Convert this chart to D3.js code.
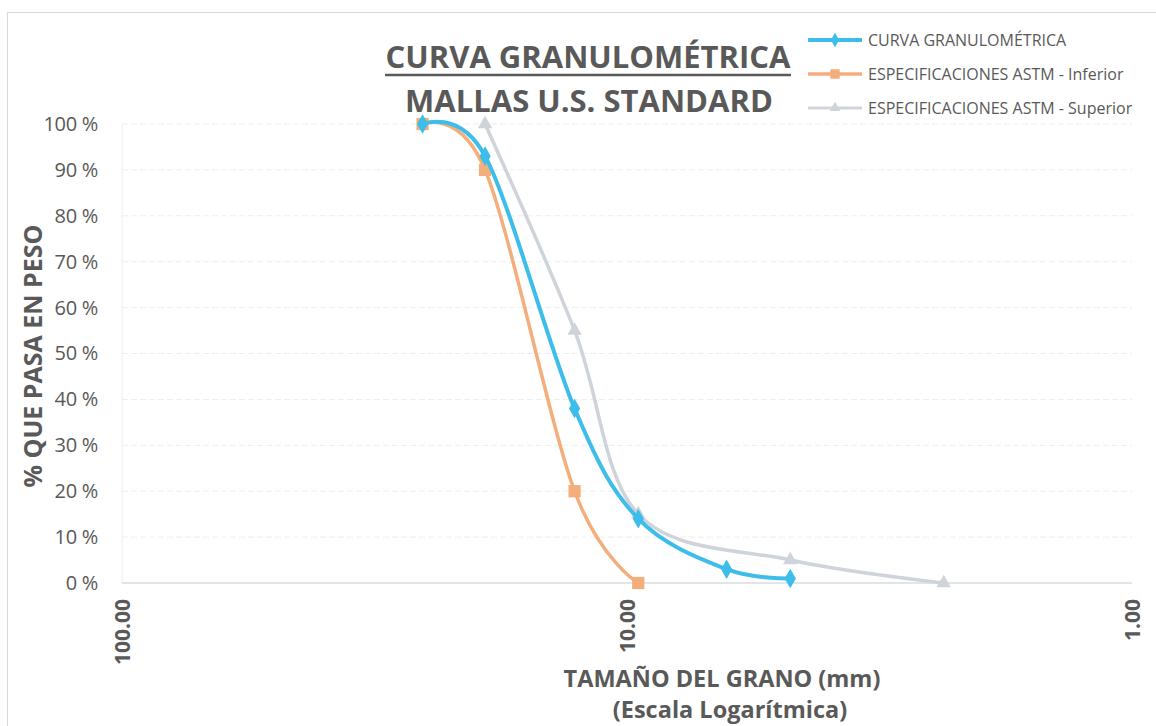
<!DOCTYPE html>
<html>
<head>
<meta charset="utf-8">
<script src="https://cdn.jsdelivr.net/npm/d3@7"></script>
<style>
  html, body { margin: 0; padding: 0; background: #fff; }
  svg { display: block; font-family: "Open Sans", "Liberation Sans", sans-serif; }
</style>
</head>
<body>
<svg id="chart" width="1156" height="726"></svg>
<script>
// Sieve openings (mm) and percent passing for each series
const curvaSizes = [25.4, 19.1, 12.7, 9.5, 6.35, 4.75];
const curvaPass  = [100, 93, 38, 14, 3, 1];

const inferiorSizes = [25.4, 19.1, 12.7, 9.5];
const inferiorPass  = [100, 90, 20, 0];

const superiorSizes = [19.1, 12.7, 9.5, 4.75, 2.36];
const superiorPass  = [100, 55, 15, 5, 0];

const yTicks = [0, 10, 20, 30, 40, 50, 60, 70, 80, 90, 100];
const xTicks = [100, 10, 1];

const seriesNames = [
  "CURVA GRANULOMÉTRICA",
  "ESPECIFICACIONES ASTM - Inferior",
  "ESPECIFICACIONES ASTM - Superior"
];

const textGray = "#595959";
const colBlue = "#3dbde9";
const colOrange = "#f4ae7c";
const colGray = "#cfd3da";

const svg = d3.select("#chart");

// Outer chart frame
svg.append("rect")
  .attr("x", 7.5).attr("y", 12.5)
  .attr("width", 1160).attr("height", 730)
  .attr("fill", "none").attr("stroke", "#d9d9d9").attr("stroke-width", 1);

const plot = { left: 122, right: 1132, top: 124, bottom: 583 };

// Reversed logarithmic grain-size axis (coarse on the left)
const x = d3.scaleLog().domain([100, 1]).range([plot.left, plot.right]);
const y = d3.scaleLinear().domain([0, 100]).range([plot.bottom, plot.top]);

// Horizontal gridlines
svg.append("g")
  .selectAll("line")
  .data(yTicks.filter(d => d > 0))
  .join("line")
  .attr("x1", plot.left).attr("x2", plot.right)
  .attr("y1", d => y(d)).attr("y2", d => y(d))
  .attr("stroke", "#eeeeee").attr("stroke-width", 1)
  .attr("stroke-dasharray", "6,3");

// Left plot edge
svg.append("line")
  .attr("x1", plot.left).attr("x2", plot.left)
  .attr("y1", plot.top).attr("y2", plot.bottom)
  .attr("stroke", "#eeeeee").attr("stroke-width", 1);

// Horizontal axis line at 0 %
svg.append("line")
  .attr("x1", plot.left).attr("x2", plot.right)
  .attr("y1", y(0)).attr("y2", y(0))
  .attr("stroke", "#d6dede").attr("stroke-width", 1.5);

// Y axis tick labels
const yAxis = d3.axisLeft(y)
  .tickValues(yTicks)
  .tickSize(0)
  .tickPadding(0)
  .tickFormat(d => d + " %");
const yg = svg.append("g")
  .attr("transform", `translate(${plot.left - 24},0)`)
  .call(yAxis);
yg.select(".domain").remove();
yg.selectAll("text")
  .attr("fill", textGray)
  .attr("font-size", 20)
  .attr("font-family", "'Open Sans', sans-serif")
  .attr("letter-spacing", "-0.3px");

// X axis tick labels, rotated
const xAxis = d3.axisBottom(x)
  .tickValues(xTicks)
  .tickSize(0)
  .tickFormat(d3.format(".2f"));
const xg = svg.append("g")
  .attr("transform", `translate(0,${plot.bottom})`)
  .call(xAxis);
xg.select(".domain").remove();
xg.selectAll("text")
  .attr("fill", textGray)
  .attr("font-size", 21)
  .attr("font-weight", "bold")
  .attr("font-family", "'Open Sans', sans-serif")
  .attr("transform", "rotate(-90)")
  .attr("text-anchor", "end")
  .attr("dy", "0.35em")
  .attr("x", -16)
  .attr("y", 0);

// Series drawing
const line = d3.line()
  .x(d => x(d[0]))
  .y(d => y(d[1]))
  .curve(d3.curveCardinal.tension(0));

function zip(a, b) { return a.map((v, i) => [v, b[i]]); }

const series = [
  { name: seriesNames[2], pts: zip(superiorSizes, superiorPass), color: colGray, width: 3.5, symbol: d3.symbolTriangle, size: 90 },
  { name: seriesNames[1], pts: zip(inferiorSizes, inferiorPass), color: colOrange, width: 3.5, symbol: d3.symbolSquare, size: 150 },
  { name: seriesNames[0], pts: zip(curvaSizes, curvaPass), color: colBlue, width: 4, symbol: d3.symbolDiamond, size: 110 }
];

series.forEach(s => {
  svg.append("path")
    .datum(s.pts)
    .attr("d", line)
    .attr("fill", "none")
    .attr("stroke", s.color)
    .attr("stroke-width", s.width)
    .attr("stroke-linejoin", "round");
  svg.append("g")
    .selectAll("path")
    .data(s.pts)
    .join("path")
    .attr("transform", d => `translate(${x(d[0])},${y(d[1])})`)
    .attr("d", d3.symbol().type(s.symbol).size(s.size))
    .attr("fill", s.color);
});

// Title
const title = svg.append("g").attr("fill", textGray)
  .attr("font-family", "'Open Sans', sans-serif")
  .attr("font-weight", "bold")
  .attr("text-anchor", "middle");
title.append("text")
  .attr("x", 588).attr("y", 68)
  .attr("font-size", 31)
  .text("CURVA GRANULOMÉTRICA");
title.append("line")
  .attr("x1", 385).attr("x2", 791)
  .attr("y1", 75).attr("y2", 75)
  .attr("stroke", textGray).attr("stroke-width", 2.5);
title.append("text")
  .attr("x", 589).attr("y", 112)
  .attr("font-size", 31)
  .text("MALLAS U.S. STANDARD");

// Legend
const legendItems = [
  { name: seriesNames[0], color: colBlue, symbol: d3.symbolDiamond, size: 60, width: 4 },
  { name: seriesNames[1], color: colOrange, symbol: d3.symbolSquare, size: 90, width: 3.5 },
  { name: seriesNames[2], color: colGray, symbol: d3.symbolTriangle, size: 50, width: 3 }
];
const legend = svg.append("g").attr("transform", "translate(808,40)");
legendItems.forEach((it, i) => {
  const g = legend.append("g").attr("transform", `translate(0,${i * 34})`);
  g.append("line").attr("x1", 0).attr("x2", 54).attr("y1", 0).attr("y2", 0)
    .attr("stroke", it.color).attr("stroke-width", it.width);
  g.append("path").attr("transform", "translate(27,0)")
    .attr("d", d3.symbol().type(it.symbol).size(it.size)).attr("fill", it.color);
  g.append("text").attr("x", 60).attr("y", 0).attr("dy", "0.35em")
    .attr("font-size", 16).attr("fill", textGray)
    .attr("font-family", "'Open Sans', sans-serif")
    .text(it.name);
});

// Axis titles
svg.append("text")
  .attr("transform", "translate(42,356) rotate(-90)")
  .attr("text-anchor", "middle")
  .attr("font-size", 25).attr("font-weight", "bold")
  .attr("fill", textGray)
  .text("% QUE PASA EN PESO");

svg.append("text")
  .attr("x", 722).attr("y", 687)
  .attr("text-anchor", "middle")
  .attr("font-size", 23.5).attr("font-weight", "bold")
  .attr("fill", textGray)
  .text("TAMAÑO DEL GRANO (mm)");

svg.append("text")
  .attr("x", 730).attr("y", 718)
  .attr("text-anchor", "middle")
  .attr("font-size", 23.5).attr("font-weight", "bold")
  .attr("fill", textGray)
  .text("(Escala Logarítmica)");
</script>
</body>
</html>
